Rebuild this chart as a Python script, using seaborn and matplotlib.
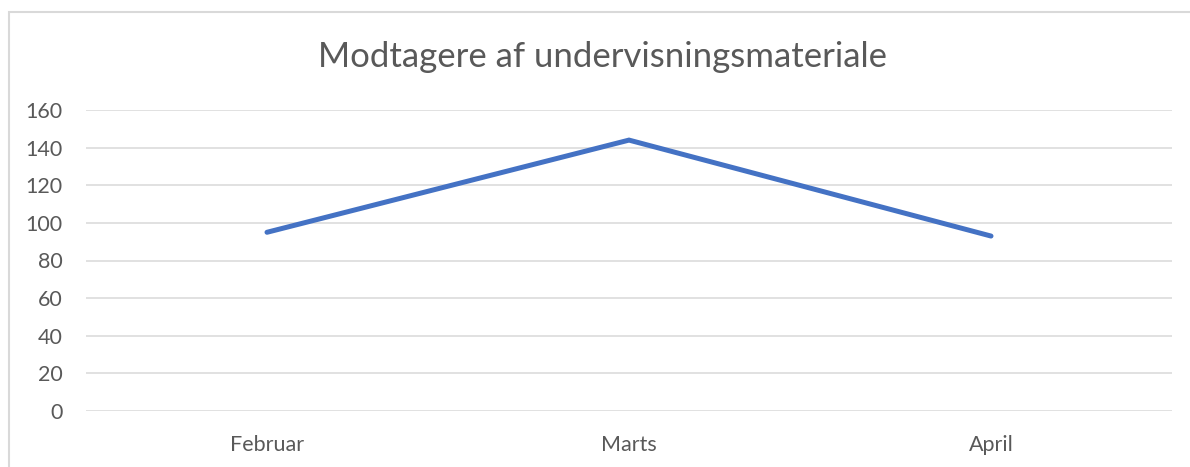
import matplotlib
matplotlib.use("Agg")
import matplotlib.pyplot as plt
import matplotlib.patches as patches
import seaborn as sns
import pandas as pd

# data
maaneder = ["Februar", "Marts", "April"]
modtagere = [95, 144, 93]
y_ticks = [0, 20, 40, 60, 80, 100, 120, 140, 160]

df = pd.DataFrame({"maaned": maaneder, "antal": modtagere})

sns.set_theme(style="white")
plt.rcParams['font.family'] = ['Lato', 'DejaVu Sans']

fig = plt.figure(figsize=(11.9, 4.67), dpi=100)
ax = fig.add_axes([86 / 1190, 1 - 411 / 467, (1172 - 86) / 1190, (411 - 110) / 467])

sns.lineplot(data=df, x="maaned", y="antal", ax=ax, color="#4472C4",
             linewidth=3.6, solid_capstyle="round", solid_joinstyle="miter")

ax.set_xlim(-0.5, len(maaneder) - 0.5)
ax.set_ylim(0, 160)
ax.set_yticks(y_ticks)
ax.yaxis.grid(True, color="#D9D9D9", linewidth=1.1)
ax.set_axisbelow(True)
for s in ax.spines.values():
    s.set_visible(False)
ax.tick_params(axis="both", length=0, labelcolor="#595959", labelsize=15.5)
ax.tick_params(axis="y", pad=17)
ax.tick_params(axis="x", pad=17)
ax.set_xlabel("")
ax.set_ylabel("")

fig.text(603 / 1190, 1 - 57 / 467, "Modtagere af undervisningsmateriale",
         ha="center", va="center", fontsize=25, color="#595959")

# kant omkring diagrammet
fig.patches.append(patches.Rectangle((9 / 1190, -0.2), 1.2, 1.2 - 12 / 467,
                                     transform=fig.transFigure, fill=False,
                                     edgecolor="#D9D9D9", linewidth=1.5))

fig.savefig("out.png", dpi=100)
